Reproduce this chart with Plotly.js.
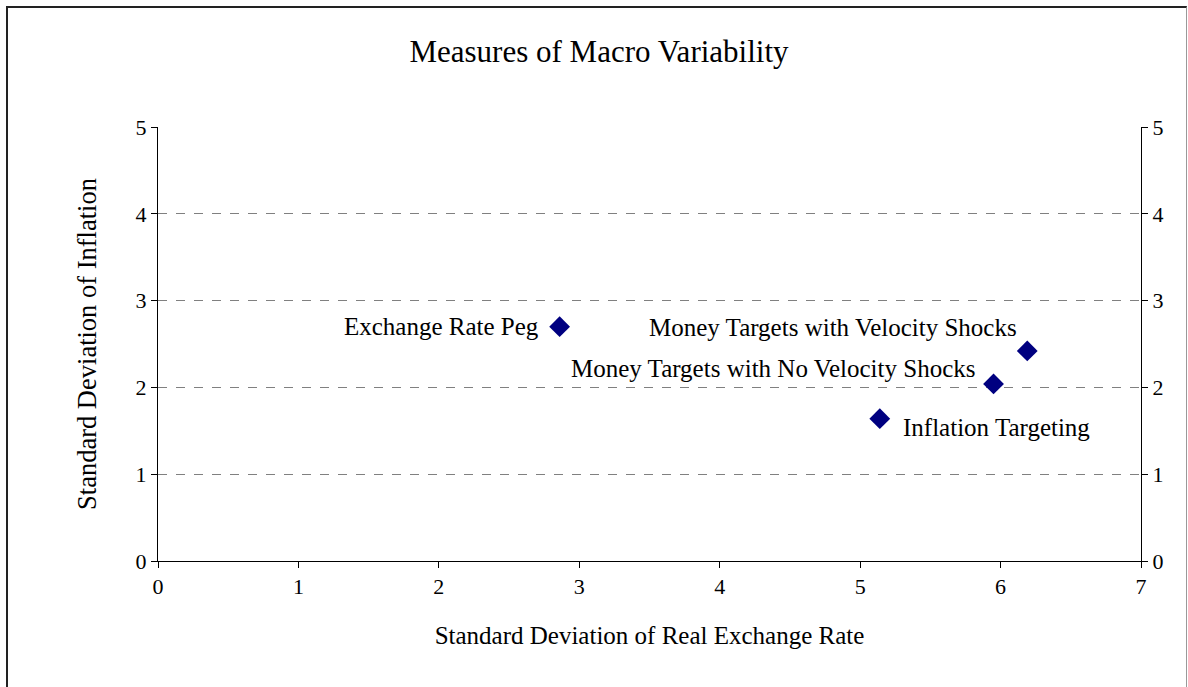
<!DOCTYPE html>
<html>
<head>
<meta charset="utf-8">
<script src="https://cdn.plot.ly/plotly-3.0.1.min.js"></script>
<style>
html,body{margin:0;padding:0;overflow:hidden;background:#fff;}
#wrap{position:relative;width:1188px;height:687px;overflow:hidden;}
#chart{position:absolute;left:0;top:0;width:1188px;height:687px;}
#frame{position:absolute;left:6px;top:6px;width:1178px;height:700px;border-top:2px solid #222;border-left:2px solid #222;border-right:1px solid #999;pointer-events:none;}
</style>
</head>
<body>
<div id="wrap"><div id="chart"></div><div id="frame"></div></div>
<script>
const policies = ["Exchange Rate Peg", "Money Targets with Velocity Shocks", "Money Targets with No Velocity Shocks", "Inflation Targeting"];
const sdRealExchangeRate = [2.86, 6.19, 5.95, 5.14];
const sdInflation = [2.70, 2.42, 2.04, 1.64];
const xTicks = [0, 1, 2, 3, 4, 5, 6, 7];
const yTicks = [0, 1, 2, 3, 4, 5];

const font = "'Liberation Serif', 'Times New Roman', serif";

// label placement (styles only)
const labelStyle = [
  {xanchor: 'right', xshift: -19, yshift: 0},
  {xanchor: 'right', xshift: -8, yshift: 23},
  {xanchor: 'right', xshift: -17, yshift: 15},
  {xanchor: 'left', xshift: 21, yshift: -9}
];

const traces = [
  {x: sdRealExchangeRate, y: sdInflation, type: 'scatter', mode: 'markers',
   marker: {symbol: 'diamond', size: 16, color: '#000080'}, showlegend: false, hoverinfo: 'x+y'},
  {x: sdRealExchangeRate, y: sdInflation, type: 'scatter', mode: 'markers', yaxis: 'y2',
   marker: {opacity: 0}, showlegend: false, hoverinfo: 'skip'}
];

const annotations = policies.map((p, i) => ({
  x: sdRealExchangeRate[i], y: sdInflation[i], xref: 'x', yref: 'y', text: p, showarrow: false,
  xanchor: labelStyle[i].xanchor, yanchor: 'middle', xshift: labelStyle[i].xshift, yshift: labelStyle[i].yshift,
  font: {family: font, size: 25, color: '#000'}
}));

const layout = {
  width: 1188, height: 687,
  margin: {l: 158, r: 47, t: 127, b: 126},
  paper_bgcolor: '#fff', plot_bgcolor: '#fff',
  font: {family: font, color: '#000', size: 22},
  title: {text: 'Measures of Macro Variability', font: {family: font, size: 31, color: '#000'},
          x: 599/1188, xref: 'container', xanchor: 'center', y: 1 - 51/687, yanchor: 'middle'},
  xaxis: {range: [0, 7], tickvals: xTicks, ticktext: xTicks.map(String), showgrid: false, zeroline: false,
          showline: true, linecolor: '#000', linewidth: 1, ticks: 'outside', ticklen: 6, tickcolor: '#000',
          tickfont: {family: font, size: 22},
          title: {text: 'Standard Deviation of Real Exchange Rate', font: {family: font, size: 25}, standoff: 28}},
  yaxis: {range: [0, 5], tickvals: yTicks, ticktext: yTicks.map(String), showgrid: true, gridcolor: '#808080',
          griddash: 'dash', gridwidth: 1, zeroline: false, showline: true, linecolor: '#000', linewidth: 1,
          ticks: 'outside', ticklen: 6, tickcolor: '#000', tickfont: {family: font, size: 22},
          title: {text: 'Standard Deviation of Inflation', font: {family: font, size: 26.5}, standoff: 31}},
  yaxis2: {range: [0, 5], tickvals: yTicks, ticktext: yTicks.map(String), overlaying: 'y', side: 'right',
           showgrid: false, zeroline: false, showline: true, linecolor: '#000', linewidth: 1,
           ticks: 'outside', ticklen: 6, tickcolor: '#000', tickfont: {family: font, size: 22}},
  annotations: annotations,
  showlegend: false
};

Plotly.newPlot('chart', traces, layout, {displayModeBar: false, staticPlot: true});
</script>
</body>
</html>
